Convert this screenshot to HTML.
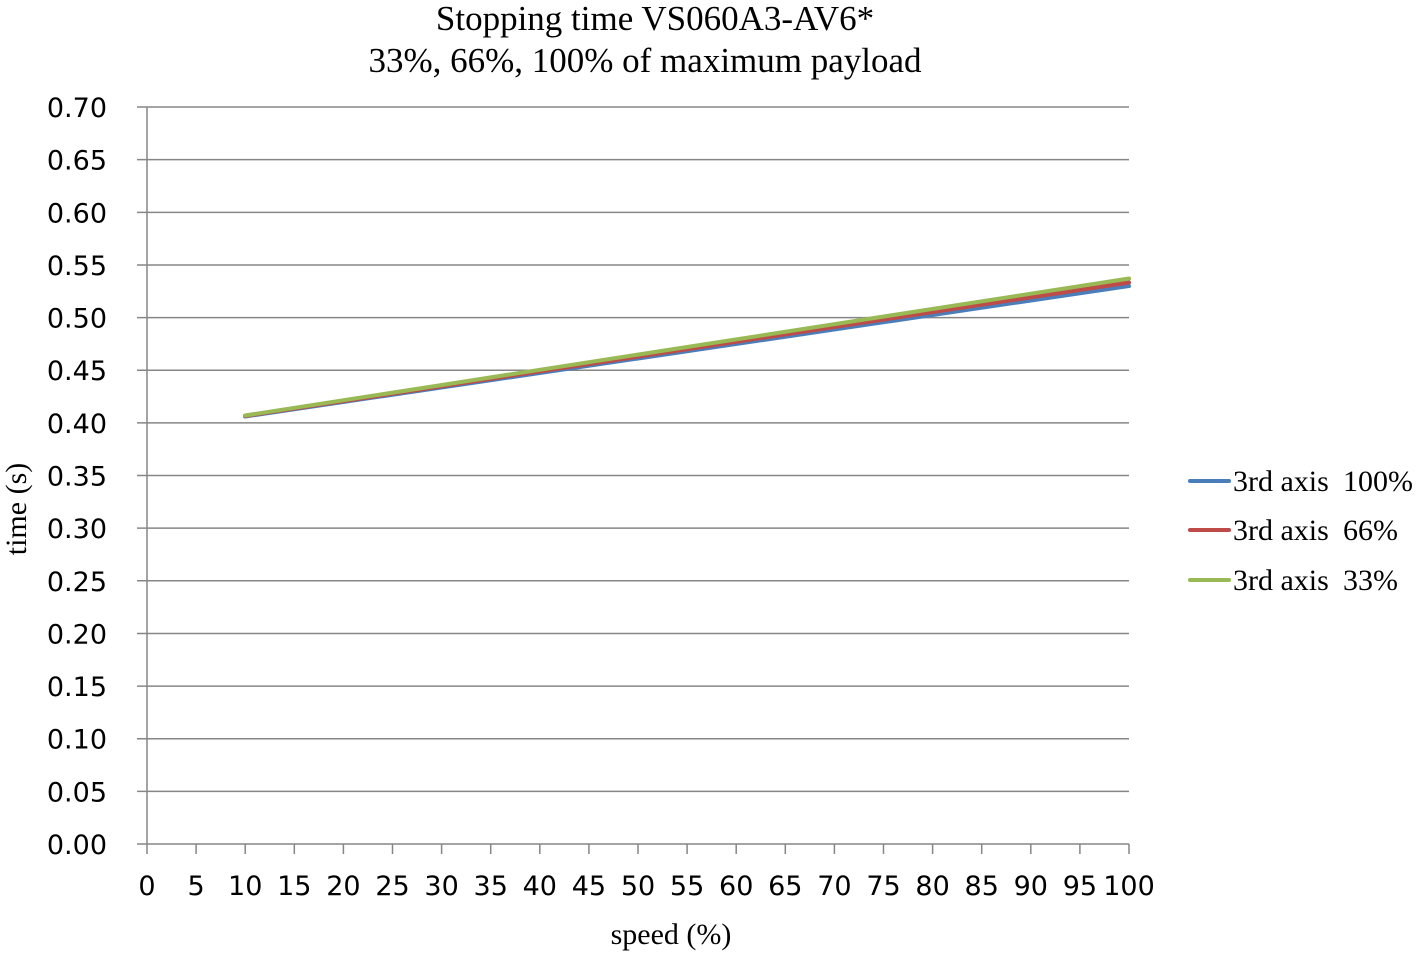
<!DOCTYPE html>
<html><head><meta charset="utf-8"><style>body{margin:0;background:#fff}</style></head><body>
<svg width="1417" height="954" xmlns="http://www.w3.org/2000/svg">
<rect width="1417" height="954" fill="#fff"/>
<g font-family="Liberation Serif, serif" font-size="35" fill="#000" text-anchor="middle">
<text x="655" y="30">Stopping time VS060A3-AV6*</text>
<text x="645" y="72">33%, 66%, 100% of maximum payload</text>
<text x="671" y="944" font-size="30">speed (%)</text>
<text transform="translate(26,509) rotate(-90)" font-size="30">time (s)</text>
</g>
<g stroke="#868686" stroke-width="1.5" id="grid"></g>
<g id="labels" font-family="DejaVu Sans, Verdana, sans-serif" font-size="27" fill="#000"></g>
<polyline points="245,416.5 1129,286" fill="none" stroke="#4a7ebb" stroke-width="4" stroke-linecap="round"/>
<polyline points="245,416 1129,282.5" fill="none" stroke="#be4b48" stroke-width="4" stroke-linecap="round"/>
<polyline points="245,415.5 1129,278.5" fill="none" stroke="#98b954" stroke-width="4" stroke-linecap="round"/>
<g stroke-width="4" stroke-linecap="round">
<line x1="1190" y1="481" x2="1229" y2="481" stroke="#4a7ebb"/>
<line x1="1190" y1="530" x2="1229" y2="530" stroke="#be4b48"/>
<line x1="1190" y1="580" x2="1229" y2="580" stroke="#98b954"/>
</g>
<g font-family="Liberation Serif, serif" font-size="30" fill="#000">
<text x="1233" y="491">3rd axis</text><text x="1343" y="491">100%</text>
<text x="1233" y="540">3rd axis</text><text x="1343" y="540">66%</text>
<text x="1233" y="590">3rd axis</text><text x="1343" y="590">33%</text>
</g>
<script>
var g=document.getElementById('grid'),l=document.getElementById('labels'),ns='http://www.w3.org/2000/svg';
function el(p,t,a,tx){var e=document.createElementNS(ns,t);for(var k in a)e.setAttribute(k,a[k]);if(tx!=null)e.textContent=tx;p.appendChild(e);}
for(var i=0;i<=14;i++){var y=844-i*52.64;el(g,'line',{x1:137,x2:1129,y1:y,y2:y});
el(l,'text',{x:107,y:y+10,'text-anchor':'end'},(i*0.05).toFixed(2));}
el(g,'line',{x1:147,x2:147,y1:107,y2:844});
for(var j=0;j<=20;j++){var x=147+j*49.1;el(g,'line',{x1:x,x2:x,y1:844,y2:854});
el(l,'text',{x:x,y:895,'text-anchor':'middle'},String(j*5));}
</script>
</svg>
</body></html>
